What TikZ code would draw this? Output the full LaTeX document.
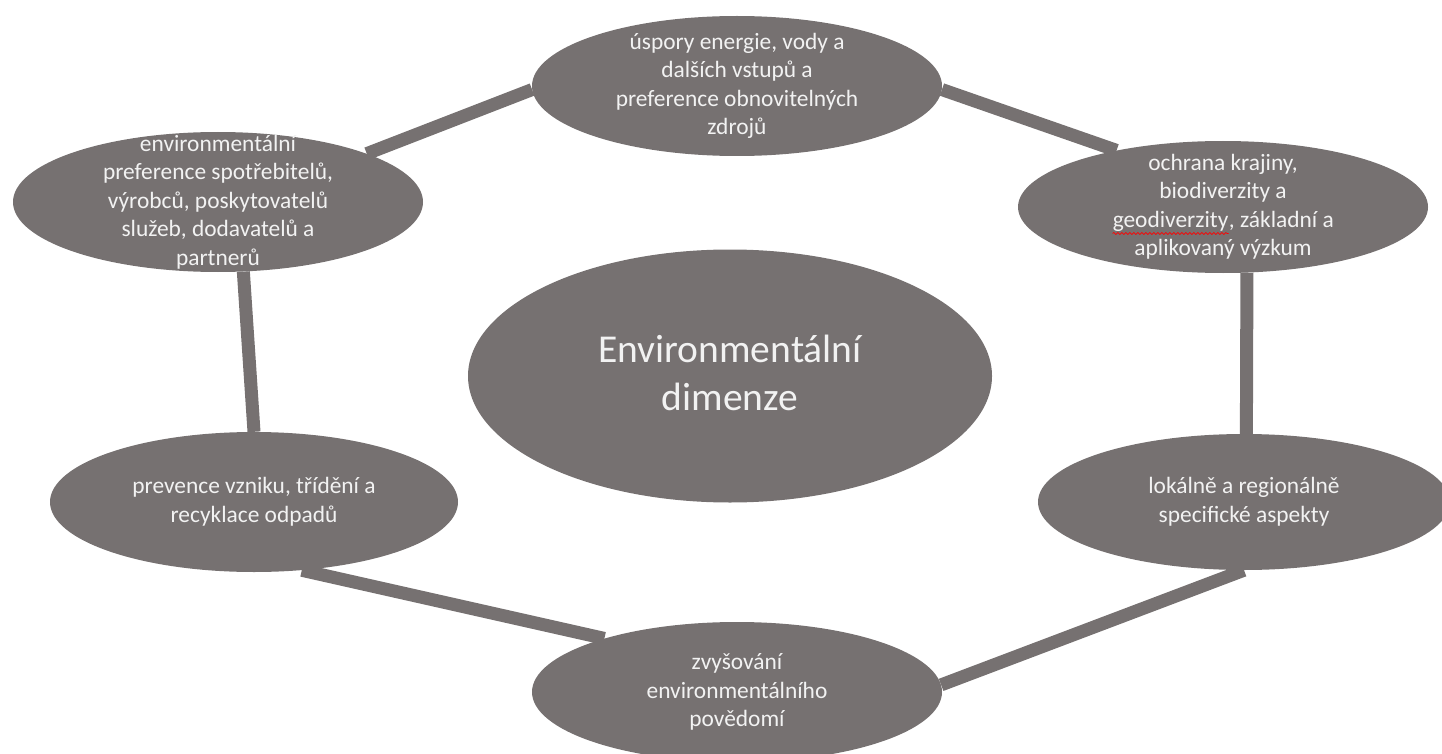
\documentclass[tikz,border=0pt]{standalone}
\usepackage{fontspec}
\setmainfont{Carlito}
\usetikzlibrary{shapes.geometric,decorations.pathmorphing}
\definecolor{ringgray}{RGB}{118,113,113}
\newcommand\spellwave[1]{\tikz[baseline=(geo-word.base)]{\node[inner sep=0pt] (geo-word) {#1};
	\draw[red, line width=0.7pt, decorate, decoration={snake, amplitude=1pt, segment length=4pt}] ([yshift=-6pt]geo-word.base west) -- ([yshift=-6pt]geo-word.base east);}}
\tikzset{
	bubble/.style={ellipse, fill=ringgray, inner sep=0pt, minimum width=410pt, minimum height=140pt},
	bubbletext/.style={text=white!95!black, align=center, inner sep=0pt, font=\fontsize{23.4}{28.5}\selectfont},
	link/.style={draw=ringgray, line width=13pt}
}

\begin{document}
\begin{tikzpicture}[x=1pt,y=-1pt]
	\useasboundingbox (0,0) rectangle (1442,754);
	\clip (0,0) rectangle (1442,754);
	% ellipses
	\node[bubble] (top) at (737,86) {};
	\node[bubble] (ul) at (218,202) {};
	\node[bubble, minimum height=132pt] (ur) at (1223,207) {};
	\node[bubble, minimum width=524pt, minimum height=253pt] (core) at (730,376) {};
	\node[bubble, minimum width=408pt] (ll) at (254,502) {};
	\node[bubble, minimum width=412pt, minimum height=136pt] (lr) at (1244,502) {};
	\node[bubble] (bot) at (737,692) {};
	% links
	\foreach \a/\b in {ul.18/top.181, top.-1/ur.152, ur.-70/lr.88, lr.south/bot.2, bot.158/ll.-55, ll.north/ul.-70}
		\draw[link] (\a) -- (\b);
	% texts
	\node[bubbletext] (top-t) at (top) {úspory energie, vody a\\dalších vstupů a\\preference obnovitelných\\zdrojů};
	\node[bubbletext] (ul-t) at (ul) {environmentální\\preference spotřebitelů,\\výrobců, poskytovatelů\\služeb, dodavatelů a\\partnerů};
	\node[bubbletext] (ur-t) at (ur) {ochrana krajiny,\\biodiverzity a\\\spellwave{geodiverzity}, základní a\\aplikovaný výzkum};
	\node[bubbletext, font=\fontsize{39.5}{48}\selectfont] (core-t) at ([yshift=3pt]core) {Environmentální\\dimenze};
	\node[bubbletext] (ll-t) at (ll) {prevence vzniku, třídění a\\recyklace odpadů};
	\node[bubbletext] (lr-t) at (lr) {lokálně a regionálně\\specifické aspekty};
	\node[bubbletext] (bot-t) at (bot) {zvyšování\\environmentálního\\povědomí};
\end{tikzpicture}
\end{document}
